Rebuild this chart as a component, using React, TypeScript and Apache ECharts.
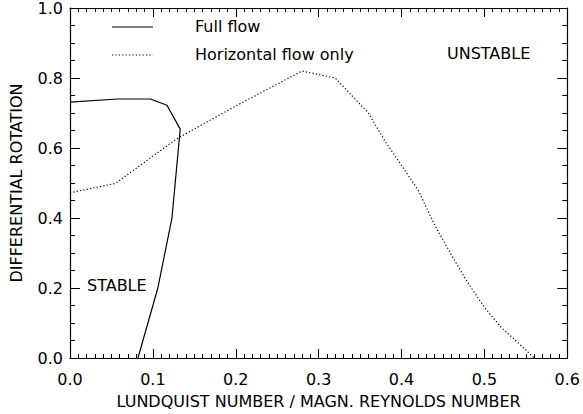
import React, { useEffect, useRef } from "react";
import * as echarts from "echarts";

const seriesNames = ["Full flow", "Horizontal flow only"];

const fullFlowX = [0, 0.057, 0.097, 0.117, 0.133, 0.123, 0.106, 0.082];
const fullFlowY = [0.731, 0.74, 0.74, 0.722, 0.654, 0.4, 0.2, 0.0];

const horizX = [0, 0.055, 0.1, 0.13, 0.2, 0.28, 0.32, 0.34, 0.36, 0.38, 0.4, 0.42, 0.44, 0.46, 0.48, 0.5, 0.52, 0.54, 0.56];
const horizY = [0.472, 0.499, 0.577, 0.628, 0.72, 0.82, 0.8, 0.75, 0.7, 0.62, 0.55, 0.48, 0.38, 0.295, 0.215, 0.145, 0.088, 0.045, 0.0];

const xTitle = "LUNDQUIST NUMBER / MAGN. REYNOLDS NUMBER";
const yTitle = "DIFFERENTIAL ROTATION";
const regionLabels = ["STABLE", "UNSTABLE"];

const FONT = "DejaVu Sans";
const INK = "#000";

function zip(xs: number[], ys: number[]) {
  return xs.map((x, i) => [x, ys[i]]);
}

export default function App() {
  const ref = useRef<HTMLDivElement>(null);
  useEffect(() => {
    if (!ref.current) return;
    const chart = echarts.init(ref.current, undefined, { renderer: "svg" });
    const mkX = (pos: string, showLabel: boolean) => ({
      type: "value",
      position: pos,
      min: 0,
      max: 0.6,
      interval: 0.1,
      axisLine: { show: true, onZero: false, lineStyle: { color: INK, width: 1.2 } },
      splitLine: { show: false },
      minorSplitLine: { show: false },
      axisTick: { show: true, inside: true, length: 9, lineStyle: { color: INK, width: 1 } },
      minorTick: { show: true, splitNumber: 10, length: 4, lineStyle: { color: INK, width: 1 } },
      axisLabel: showLabel
        ? { show: true, margin: 13, fontFamily: FONT, fontSize: 16, color: INK, formatter: (v: number) => v.toFixed(1) }
        : { show: false },
    });
    const mkY = (pos: string, showLabel: boolean) => ({
      type: "value",
      position: pos,
      min: 0,
      max: 1,
      interval: 0.2,
      axisLine: { show: true, onZero: false, lineStyle: { color: INK, width: 1.2 } },
      splitLine: { show: false },
      minorSplitLine: { show: false },
      axisTick: { show: true, inside: true, length: 10, lineStyle: { color: INK, width: 1 } },
      minorTick: { show: true, splitNumber: 4, length: 5, lineStyle: { color: INK, width: 1 } },
      axisLabel: showLabel
        ? { show: true, margin: 7, fontFamily: FONT, fontSize: 16, color: INK, formatter: (v: number) => v.toFixed(1) }
        : { show: false },
    });
    chart.setOption({
      animation: false,
      backgroundColor: "#fff",
      textStyle: { fontFamily: FONT, color: INK },
      grid: { left: 70, right: 12, top: 6, bottom: 55 },
      xAxis: [
        {
          ...mkX("bottom", true),
          name: xTitle,
          nameLocation: "middle",
          nameGap: 35,
          nameTextStyle: { fontFamily: FONT, fontSize: 16, color: INK },
        },
        mkX("top", false),
      ],
      yAxis: [
        {
          ...mkY("left", true),
          name: yTitle,
          nameLocation: "middle",
          nameRotate: 90,
          nameGap: 46,
          nameTextStyle: { fontFamily: FONT, fontSize: 16, color: INK },
        },
        mkY("right", false),
      ],
      series: [
        {
          name: seriesNames[0],
          type: "line",
          xAxisIndex: 0,
          yAxisIndex: 0,
          data: zip(fullFlowX, fullFlowY),
          symbol: "none",
          lineStyle: { color: INK, width: 1.2, type: "solid" },
        },
        {
          name: seriesNames[1],
          type: "line",
          xAxisIndex: 0,
          yAxisIndex: 0,
          data: zip(horizX, horizY),
          symbol: "none",
          lineStyle: { color: INK, width: 1.2, type: [1.2, 2.2] },
        },
      ],
      graphic: [
        { type: "line", shape: { x1: 112, y1: 27, x2: 153, y2: 27 }, style: { stroke: INK, lineWidth: 1.2 } },
        { type: "line", shape: { x1: 112, y1: 55, x2: 153, y2: 55 }, style: { stroke: INK, lineWidth: 1.2, lineDash: [1.2, 2.2] } },
        { type: "text", left: 195, top: 18, style: { text: seriesNames[0], fontFamily: FONT, fontSize: 16, fill: INK } },
        { type: "text", left: 195, top: 46, style: { text: seriesNames[1], fontFamily: FONT, fontSize: 16, fill: INK } },
        { type: "text", left: 87, top: 277, style: { text: regionLabels[0], fontFamily: FONT, fontSize: 16, fill: INK } },
        { type: "text", left: 447, top: 45, style: { text: regionLabels[1], fontFamily: FONT, fontSize: 16, fill: INK } },
      ],
    });
    return () => chart.dispose();
  }, []);
  return (
    <div
      ref={ref}
      style={{ position: "fixed", left: 0, top: 0, width: 583, height: 414, background: "#fff" }}
    />
  );
}
